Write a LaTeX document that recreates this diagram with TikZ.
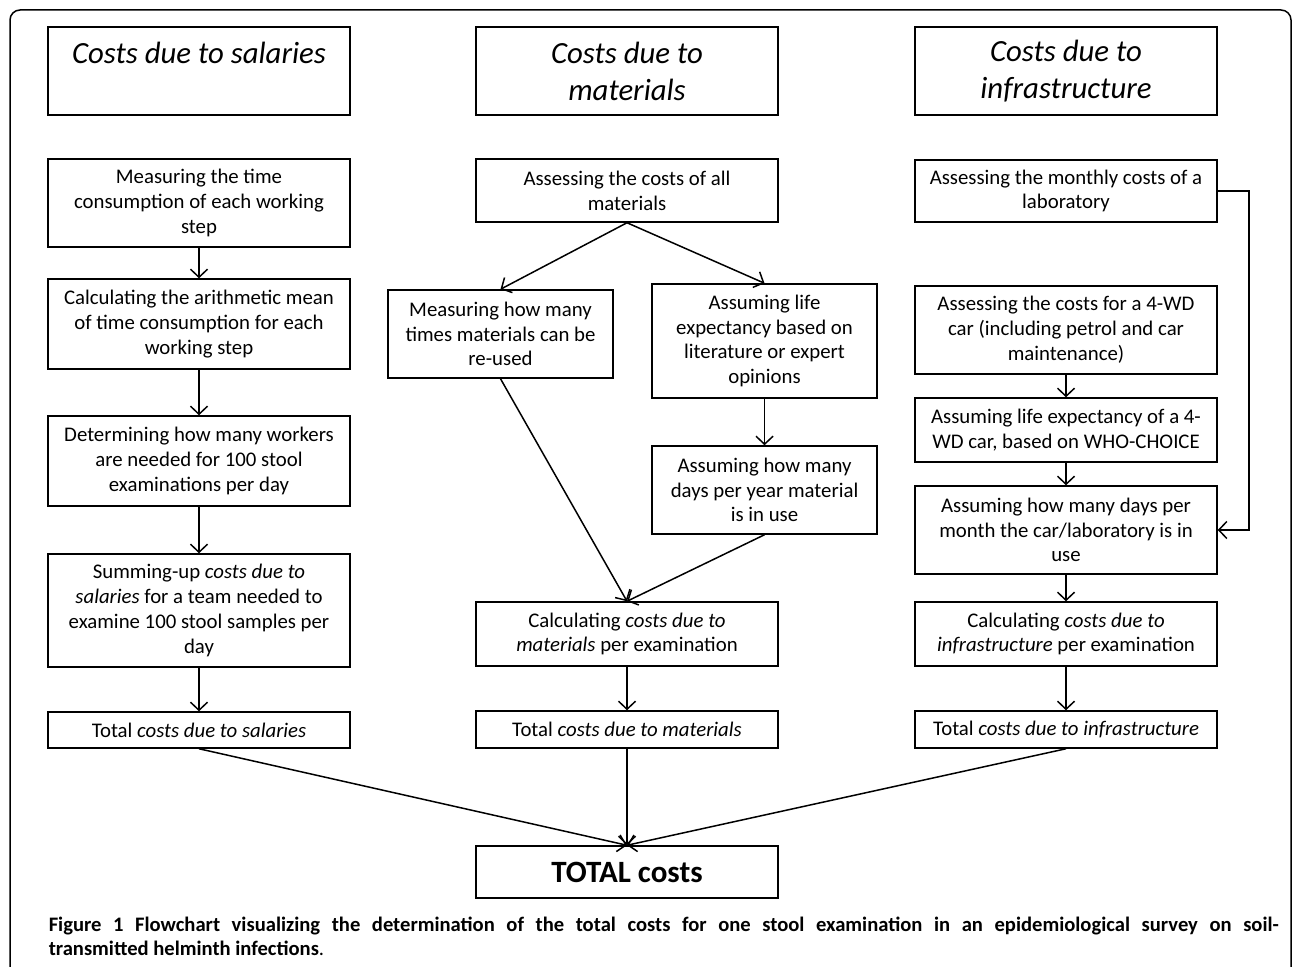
\documentclass[tikz,border=0pt]{standalone}
\usepackage{fontspec}
\setmainfont{Carlito}
\usetikzlibrary{arrows.meta}
\begin{document}
\begin{tikzpicture}[x=0.5pt,y=-0.5pt,
line width=0.75pt,
>={Straight Barb[length=4pt,width=8.5pt]},
flow/.style={draw,->},
stepbox/.style={minimum width=151pt,align=center,inner sep=1pt,font=\fontsize{10.4}{12.4}\selectfont},
narrowbox/.style={stepbox,minimum width=112.5pt},
headbox/.style={stepbox,minimum height=44pt,font=\fontsize{15.4}{18.5}\selectfont\itshape}]
\tikzstyle{every node}=[rectangle,draw]
\useasboundingbox (0,0) rectangle (1293,967);
\begin{scope}
\clip (0,0) rectangle (1293,967);
\draw[rounded corners=5pt] (10,1100) -- (10,10) -- (1291,10) -- (1291,1100);
\end{scope}
\node[headbox] (salHead) at (199,71) {Costs due to salaries\\\mbox{}};
\node[headbox] (matHead) at (627,71) {Costs due to\\materials};
\node[headbox] (infHead) at (1066,71) {Costs due to\\infrastructure};
\node[stepbox,minimum height=44pt] (sal1) at (199,203) {Measuring the time\\consumption of each working\\step};
\node[stepbox,minimum height=45pt] (sal2) at (199,324) {Calculating the arithmetic mean\\of time consumption for each\\working step};
\node[stepbox,minimum height=45pt] (sal3) at (199,461) {Determining how many workers\\are needed for 100 stool\\examinations per day};
\node[stepbox,minimum height=56.5pt] (sal4) at (199,610.5) {Summing-up \textit{costs due to}\\\textit{salaries} for a team needed to\\examine 100 stool samples per\\day};
\node[stepbox,minimum height=18pt] (salTot) at (199,730) {Total \textit{costs due to salaries}};
\node[stepbox,minimum height=31.5pt] (mat1) at (627,190.5) {Assessing the costs of all\\materials};
\node[narrowbox,minimum height=44pt] (matReuse) at (500.5,334) {Measuring how many\\times materials can be\\re-used};
\node[narrowbox,minimum height=57pt] (matLife) at (764.5,341) {Assuming life\\expectancy based on\\literature or expert\\opinions};
\node[narrowbox,minimum height=44pt] (matDays) at (764.5,490) {Assuming how many\\days per year material\\is in use};
\node[stepbox,minimum height=32pt] (matCalc) at (627,634) {Calculating \textit{costs due to}\\\textit{materials} per examination};
\node[stepbox,minimum height=18.5pt] (matTot) at (627,729.5) {Total \textit{costs due to materials}};
\node[stepbox,minimum height=31pt] (inf1) at (1066,191) {Assessing the monthly costs of a\\laboratory};
\node[stepbox,minimum height=44pt] (inf2) at (1066,330) {Assessing the costs for a 4-WD\\car (including petrol and car\\maintenance)};
\node[stepbox,minimum height=32pt] (inf3) at (1066,430) {Assuming life expectancy of a 4-\\WD car, based on WHO-CHOICE};
\node[stepbox,minimum height=44pt] (inf4) at (1066,530) {Assuming how many days per\\month the car/laboratory is in\\use};
\node[stepbox,minimum height=32pt] (infCalc) at (1066,634) {Calculating \textit{costs due to}\\\textit{infrastructure} per examination};
\node[stepbox,minimum height=18.5pt] (infTot) at (1066,729.5) {Total \textit{costs due to infrastructure}};
\node[stepbox,minimum height=26pt,font=\fontsize{15.5}{18}\selectfont\bfseries] (total) at (627,872) {TOTAL costs};
\node[draw=none,anchor=north west,inner sep=0pt,text width=615pt,align=justify,font=\fontsize{10.3}{12}\selectfont\bfseries] (caption) at (48,916) {Figure 1 Flowchart visualizing the determination of the total costs for one stool examination in an epidemiological survey on soil-\linebreak transmitted helminth infections\textmd{.}};
\coordinate (loopRight) at (1249,191);
\draw[flow] (sal1) -- (sal2);
\draw[flow] (sal2) -- (sal3);
\draw[flow] (sal3) -- (sal4);
\draw[flow] (sal4) -- (salTot);
\draw[flow] (mat1.south) -- (matReuse.north);
\draw[flow] (mat1.south) -- (matLife.north);
\draw[flow] (matLife) -- (matDays);
\draw[flow] (matReuse.south) -- (matCalc.north);
\draw[flow] (matDays.south) -- (matCalc.north);
\draw[flow] (matCalc) -- (matTot);
\draw[flow] (inf1.east) -- (loopRight) |- (inf4.east);
\draw[flow] (inf2) -- (inf3);
\draw[flow] (inf3) -- (inf4);
\draw[flow] (inf4) -- (infCalc);
\draw[flow] (infCalc) -- (infTot);
\draw[flow] (salTot.south) -- (total.north);
\draw[flow] (matTot.south) -- (total.north);
\draw[flow] (infTot.south) -- (total.north);
\end{tikzpicture}
\end{document}
